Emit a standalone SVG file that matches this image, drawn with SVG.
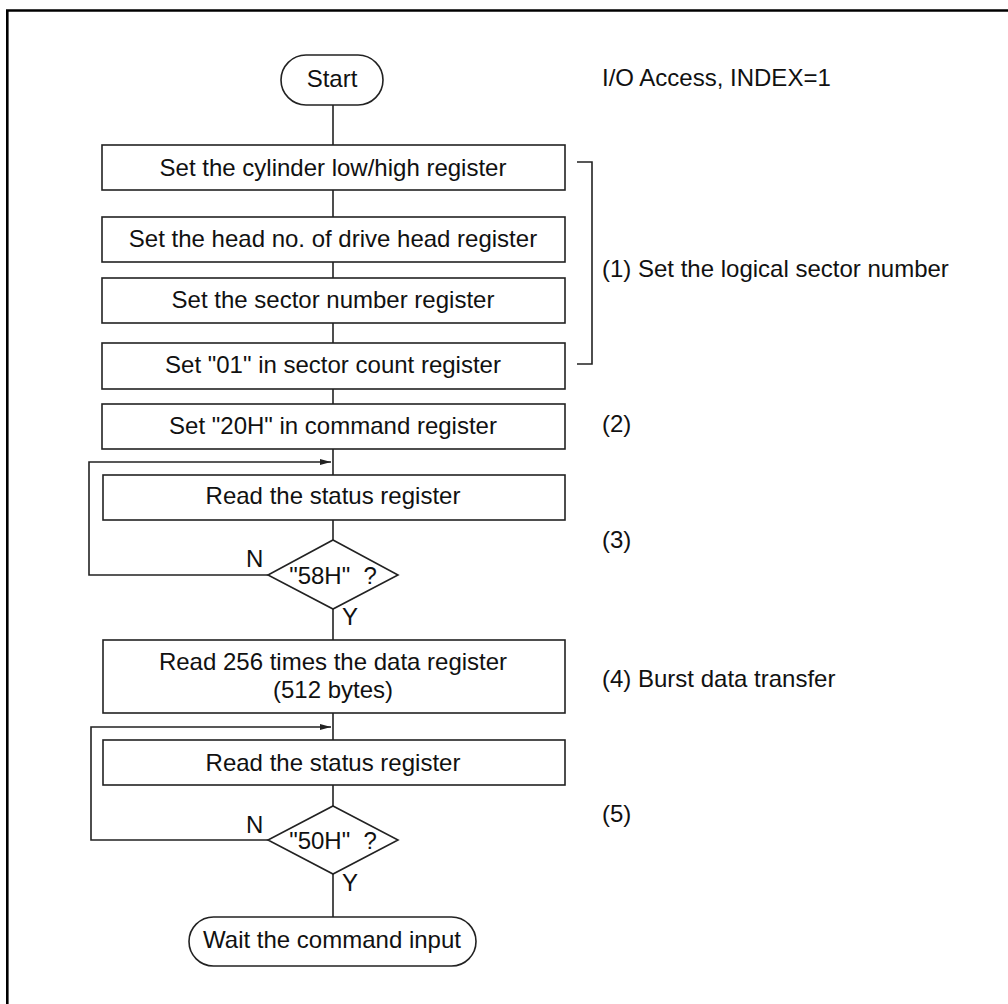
<svg xmlns="http://www.w3.org/2000/svg" width="1008" height="1004" viewBox="0 0 1008 1004">
<style>
  .shape { fill: #fff; stroke: #222; stroke-width: 1.6; }
  .line { fill: none; stroke: #222; stroke-width: 1.6; }
  text { font-family: "Liberation Sans", Arial, sans-serif; font-size: 24px; fill: #111; }
  .c { text-anchor: middle; }
</style>
<defs>
  <marker id="arrow" markerWidth="12" markerHeight="8" refX="11" refY="4" orient="auto" markerUnits="userSpaceOnUse">
    <path d="M0,1 L11,4 L0,7 Z" fill="#222"/>
  </marker>
</defs>
<rect width="1008" height="1004" fill="#fff"/>
<path d="M7.3,1004 V10.5 H1008" fill="none" stroke="#000" stroke-width="2.6"/>

<g id="connectors">
  <line class="line" x1="333" y1="105" x2="333" y2="145"/>
  <line class="line" x1="333" y1="190" x2="333" y2="217"/>
  <line class="line" x1="333" y1="262" x2="333" y2="278"/>
  <line class="line" x1="333" y1="323" x2="333" y2="343"/>
  <line class="line" x1="333" y1="389" x2="333" y2="404"/>
  <line class="line" x1="333" y1="449" x2="333" y2="475"/>
  <line class="line" x1="333" y1="520" x2="333" y2="540"/>
  <line class="line" x1="333" y1="609" x2="333" y2="640"/>
  <line class="line" x1="333" y1="713" x2="333" y2="740"/>
  <line class="line" x1="333" y1="785" x2="333" y2="806"/>
  <line class="line" x1="333" y1="874" x2="333" y2="917"/>
  <path class="line" d="M268,575 H89 V462 H331" marker-end="url(#arrow)"/>
  <path class="line" d="M268,840 H91 V727 H331" marker-end="url(#arrow)"/>
  <path class="line" d="M577,162 H592 V364 H577"/>
</g>

<g id="start">
  <rect class="shape" x="281" y="55" width="102" height="50" rx="25" ry="25"/>
  <text class="c" x="332" y="87">Start</text>
</g>
<g id="box1">
  <rect class="shape" x="102" y="145" width="463" height="45"/>
  <text class="c" x="333" y="176">Set the cylinder low/high register</text>
</g>
<g id="box2">
  <rect class="shape" x="102" y="217" width="463" height="45"/>
  <text class="c" x="333" y="247">Set the head no. of drive head register</text>
</g>
<g id="box3">
  <rect class="shape" x="102" y="278" width="463" height="45"/>
  <text class="c" x="333" y="308">Set the sector number register</text>
</g>
<g id="box4">
  <rect class="shape" x="102" y="343" width="463" height="46"/>
  <text class="c" x="333" y="373">Set "01" in sector count register</text>
</g>
<g id="box5">
  <rect class="shape" x="102" y="404" width="463" height="45"/>
  <text class="c" x="333" y="434">Set "20H" in command register</text>
</g>
<g id="box6">
  <rect class="shape" x="103" y="475" width="462" height="45"/>
  <text class="c" x="333" y="504">Read the status register</text>
</g>
<g id="decision1">
  <polygon class="shape" points="333,540 398,575 333,609 268,575"/>
  <text class="c" x="333" y="584" xml:space="preserve">"58H"  ?</text>
  <text x="246" y="567">N</text>
  <text x="342" y="625">Y</text>
</g>
<g id="box7">
  <rect class="shape" x="103" y="640" width="462" height="73"/>
  <text class="c" x="333" y="670">Read 256 times the data register</text>
  <text class="c" x="333" y="698">(512 bytes)</text>
</g>
<g id="box8">
  <rect class="shape" x="103" y="740" width="462" height="45"/>
  <text class="c" x="333" y="771">Read the status register</text>
</g>
<g id="decision2">
  <polygon class="shape" points="333,806 398,840 333,874 268,840"/>
  <text class="c" x="333" y="849" xml:space="preserve">"50H"  ?</text>
  <text x="246" y="833">N</text>
  <text x="342" y="891">Y</text>
</g>
<g id="end">
  <rect class="shape" x="189" y="917" width="287" height="49" rx="24.5" ry="24.5"/>
  <text class="c" x="332" y="948">Wait the command input</text>
</g>

<g id="annotations">
  <text x="602" y="86">I/O Access, INDEX=1</text>
  <text x="602" y="277">(1) Set the logical sector number</text>
  <text x="602" y="432">(2)</text>
  <text x="602" y="548">(3)</text>
  <text x="602" y="687">(4) Burst data transfer</text>
  <text x="602" y="822">(5)</text>
</g>
</svg>
